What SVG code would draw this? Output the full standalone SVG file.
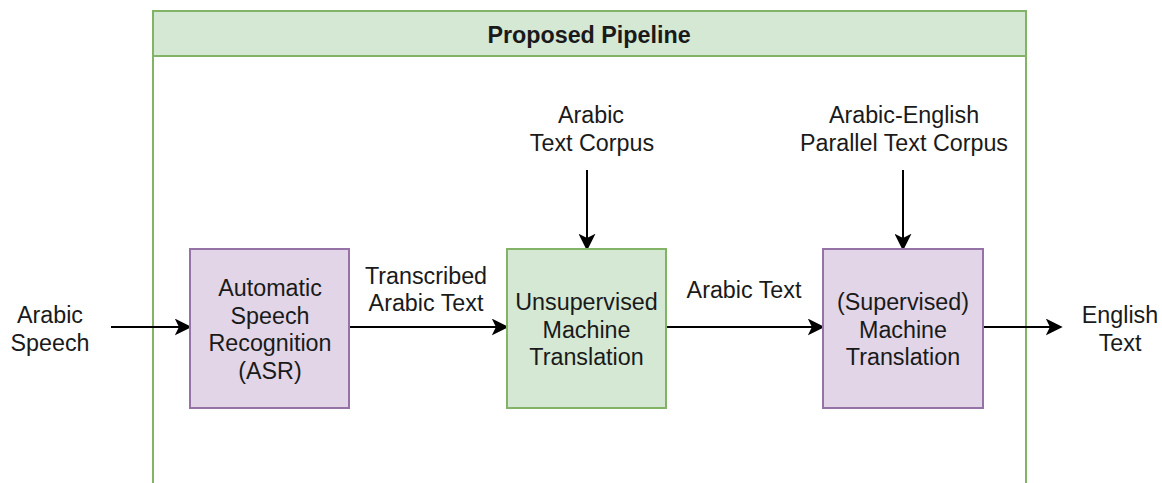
<svg xmlns="http://www.w3.org/2000/svg" width="1162" height="483" viewBox="0 0 1162 483">
<defs>
<style>
text{font-family:"Liberation Sans",Arial,Helvetica,sans-serif;font-size:23.3px;fill:#1a1a1a;text-anchor:middle}
.title{font-weight:bold;font-size:23.3px}
.green{fill:#d5e8d4;stroke:#82b366;stroke-width:2}
.purple{fill:#e1d5e7;stroke:#9673a6;stroke-width:2}
.edge{fill:none;stroke:#000;stroke-width:2;marker-end:url(#arr)}
</style>
<marker id="arr" viewBox="0 0 10 10" refX="9" refY="5" markerWidth="8.5" markerHeight="8.5" orient="auto" markerUnits="strokeWidth">
<path d="M0,0 L10,5 L0,10 L2.5,5 z" fill="#000"/>
</marker>
</defs>
<rect width="1162" height="483" fill="#fff"/>
<g id="container">
<rect class="green" x="153" y="11" width="873" height="45"/>
<path d="M153,56 V490 M1026,56 V490" fill="none" stroke="#82b366" stroke-width="2"/>
<text class="title" x="589" y="43">Proposed Pipeline</text>
</g>
<g id="connectors">
<path class="edge" d="M111,327 H190"/>
<path class="edge" d="M349,327 H507"/>
<path class="edge" d="M666,327 H823"/>
<path class="edge" d="M983,327 H1061"/>
<path class="edge" d="M587,170 V249"/>
<path class="edge" d="M903,170 V249"/>
</g>
<g id="asr">
<rect class="purple" x="190" y="249" width="159" height="159"/>
<text x="270" y="296">Automatic</text>
<text x="270" y="323.5">Speech</text>
<text x="270" y="351">Recognition</text>
<text x="270" y="378.5">(ASR)</text>
</g>
<g id="umt">
<rect class="green" x="507" y="249" width="159" height="159"/>
<text x="586.5" y="310">Unsupervised</text>
<text x="586.5" y="337.5">Machine</text>
<text x="586.5" y="365">Translation</text>
</g>
<g id="smt">
<rect class="purple" x="823" y="249" width="160" height="159"/>
<text x="903" y="310">(Supervised)</text>
<text x="903" y="337.5">Machine</text>
<text x="903" y="365">Translation</text>
</g>
<g id="arabic-speech">
<text x="50" y="323">Arabic</text>
<text x="50" y="351">Speech</text>
</g>
<g id="english-text">
<text x="1120" y="323">English</text>
<text x="1120" y="351">Text</text>
</g>
<g id="arabic-corpus">
<text x="591" y="123">Arabic</text>
<text x="592" y="151">Text Corpus</text>
</g>
<g id="parallel-corpus">
<text x="904" y="123">Arabic-English</text>
<text x="904" y="151">Parallel Text Corpus</text>
</g>
<g id="label-transcribed">
<text x="426" y="284">Transcribed</text>
<text x="426" y="311">Arabic Text</text>
</g>
<g id="label-arabic-text">
<text x="744" y="298">Arabic Text</text>
</g>
</svg>
